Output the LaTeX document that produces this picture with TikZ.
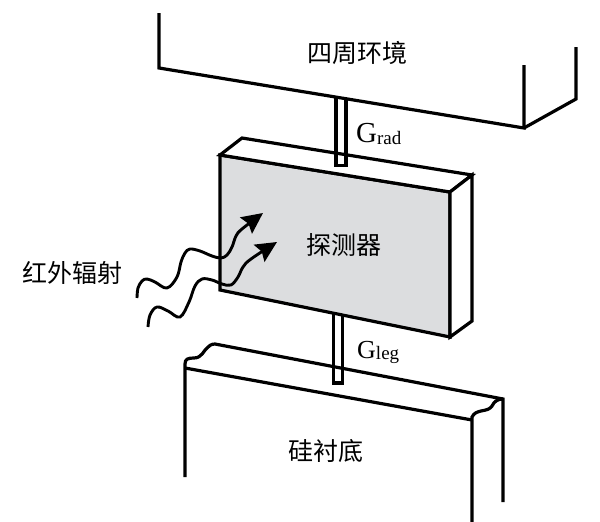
\documentclass[tikz,border=0pt]{standalone}
\usepackage{fontspec}
\setmainfont{Liberation Serif}
\newfontfamily\cjk{Noto Sans CJK SC}
\usetikzlibrary{arrows.meta}
\definecolor{detgray}{RGB}{220,221,223}
\begin{document}
\begin{tikzpicture}[x=1pt,y=-1pt,
  edge/.style={line width=3.2pt,black},
  wave/.style={line width=2.9pt,black,-{Stealth[length=21pt,width=20pt,inset=3pt]}},
  cjklabel/.style={font=\cjk\fontsize{25}{25}\selectfont,inner sep=0pt},
  glabel/.style={anchor=base west,inner sep=0pt}]
\useasboundingbox (0,0) rectangle (600,522);
% surroundings
\draw[edge] (159,13)--(159,68)--(524,128)--(524,65);
\draw[edge] (524,128)--(576,99)--(576,47);
% detector
\coordinate (fA) at (220,155);
\coordinate (fB) at (450,192);
\coordinate (fC) at (450,337);
\coordinate (fD) at (220,290);
\coordinate (bA) at (242,138);
\coordinate (bB) at (472,175);
\coordinate (bC) at (472,321);
\filldraw[edge,fill=detgray] (fA)--(fB)--(fC)--(fD)--cycle;
\filldraw[edge,fill=white] (fA)--(bA)--(bB)--(fB)--cycle;
\filldraw[edge,fill=white] (fB)--(bB)--(bC)--(fC)--cycle;
% G_rad post
\draw[edge] (336,97)--(336,165.5)--(346,165.5)--(346,99);
% G_leg post
\draw[edge] (333.5,313)--(333.5,383)--(342.5,383)--(342.5,315);
% substrate
\draw[edge] (185,477)--(185,364) .. controls (185,359) and (188,358) .. (194,358)
  .. controls (202,358) and (204,350) .. (207,348)
  .. controls (209,346) and (211,344) .. (215,344) -- (503,399) -- (503,502);
\draw[edge] (472,522)--(472,417) .. controls (474,413) and (477,412) .. (481,411)
  .. controls (487,410) and (490,409) .. (492,406)
  .. controls (494,402) and (497,399) .. (503,399);
\draw[edge] (185,368)--(472,420);
% infrared waves
\draw[wave] plot[smooth,tension=0.6] coordinates {(137,298) (138,288) (142,281) (147,279) (155,282) (167,288) (177,277) (181,262) (185,253) (190,249) (200,251) (212,256) (221,258) (227,255) (232,247) (236,236) (242,229) (263,213)};
\draw[wave] plot[smooth,tension=0.6] coordinates {(148,327) (150,315) (157,307) (168,311) (180,317) (189,302) (195,286) (202,279) (212,280) (222,284) (231,285) (238,277) (243,267) (251,259) (277,242)};
% labels
\node[cjklabel] (env) at (357,53) {四周环境};
\node[cjklabel] (det) at (344,245) {探测器};
\node[cjklabel] (ir) at (73,273) {红外辐射};
\node[cjklabel] (sub) at (326,451) {硅衬底};
\node[glabel] (grad) at (356,142) {\fontsize{29}{29}\selectfont G\fontsize{19}{19}\selectfont\raisebox{-2pt}{rad}};
\node[glabel] (gleg) at (357,358) {\fontsize{26}{26}\selectfont G\fontsize{19}{19}\selectfont\raisebox{-1.5pt}{leg}};
\end{tikzpicture}
\end{document}
